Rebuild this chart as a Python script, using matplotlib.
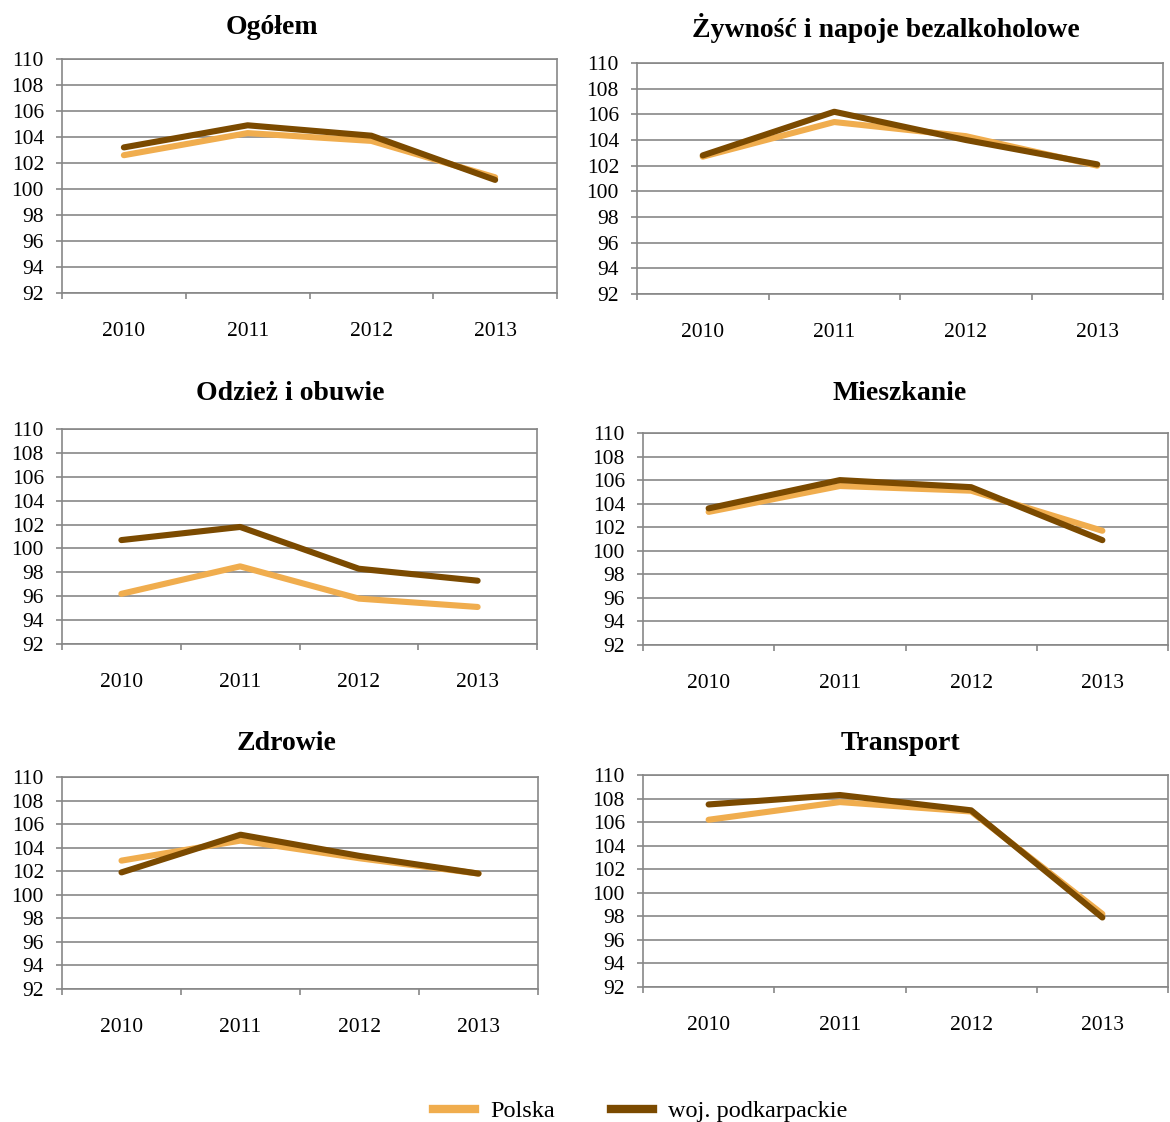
import matplotlib
matplotlib.use("Agg")
import matplotlib.pyplot as plt
from matplotlib.lines import Line2D

plt.rcParams['font.family'] = ['Liberation Serif', 'DejaVu Serif']

years = ["2010", "2011", "2012", "2013"]
titles = ["Ogółem", "Żywność i napoje bezalkoholowe", "Odzież i obuwie",
          "Mieszkanie", "Zdrowie", "Transport"]

polska = [
    [102.6, 104.3, 103.7, 100.9],
    [102.7, 105.4, 104.3, 102.0],
    [96.2, 98.5, 95.8, 95.1],
    [103.3, 105.5, 105.1, 101.7],
    [102.9, 104.6, 103.1, 101.8],
    [106.2, 107.7, 106.9, 98.2],
]
podkarpackie = [
    [103.2, 104.9, 104.1, 100.7],
    [102.8, 106.2, 104.0, 102.1],
    [100.7, 101.8, 98.3, 97.3],
    [103.6, 106.0, 105.4, 100.9],
    [101.9, 105.1, 103.3, 101.8],
    [107.5, 108.3, 107.0, 97.9],
]

c_pl = "#F0AD4E"
c_pk = "#7B4A00"
grid_c = "#878787"

W, H = 1170, 1122
# axes boxes in pixels: left, top, right, bottom
boxes = [
    (62, 59, 557, 293), (637, 63, 1163, 294),
    (62, 429, 537, 644), (643, 433, 1168, 645),
    (62, 777, 538, 989), (643, 775, 1168, 987),
]
# title centres in pixels
title_pos = [(272, 27), (886, 28), (290, 393), (900, 393), (287, 743), (900, 743)]

fig = plt.figure(figsize=(W / 100, H / 100), dpi=100)

for i, (l, t, r, b) in enumerate(boxes):
    ax = fig.add_axes([l / W, 1 - b / H, (r - l) / W, (b - t) / H])
    x = range(len(years))
    ax.plot(x, polska[i], color=c_pl, lw=4.4, solid_capstyle='round', zorder=3)
    ax.plot(x, podkarpackie[i], color=c_pk, lw=4.4, solid_capstyle='round', zorder=4)
    ax.set_xlim(-0.5, 3.5)
    ax.set_ylim(92, 110)
    ax.set_yticks(range(92, 111, 2))
    ax.set_xticks(list(x))
    ax.set_xticklabels(years)
    ax.set_xticks([-0.5, 0.5, 1.5, 2.5, 3.5], minor=True)
    ax.tick_params(axis='x', which='major', length=0, pad=21, labelsize=15.5)
    ax.tick_params(axis='x', which='minor', length=4, color=grid_c, width=1.2)
    ax.tick_params(axis='y', length=4, color=grid_c, width=1.2, pad=9, labelsize=15.5)
    ax.grid(axis='y', color=grid_c, lw=1.2, zorder=0)
    for s in ax.spines.values():
        s.set_color(grid_c)
        s.set_linewidth(1.2)
    tx, ty = title_pos[i]
    fig.text(tx / W, 1 - ty / H, titles[i], ha='center', va='center',
             fontsize=20, fontweight='bold')

handles = [Line2D([], [], color=c_pl, lw=6), Line2D([], [], color=c_pk, lw=6)]
fig.legend(handles, ["Polska", "woj. podkarpackie"], loc='center',
           bbox_to_anchor=(640 / W, 1 - 1111 / H), ncol=2, frameon=False,
           fontsize=17.5, handlelength=1.75, handletextpad=0.6, columnspacing=2.3)

fig.savefig("out.png", dpi=100)
